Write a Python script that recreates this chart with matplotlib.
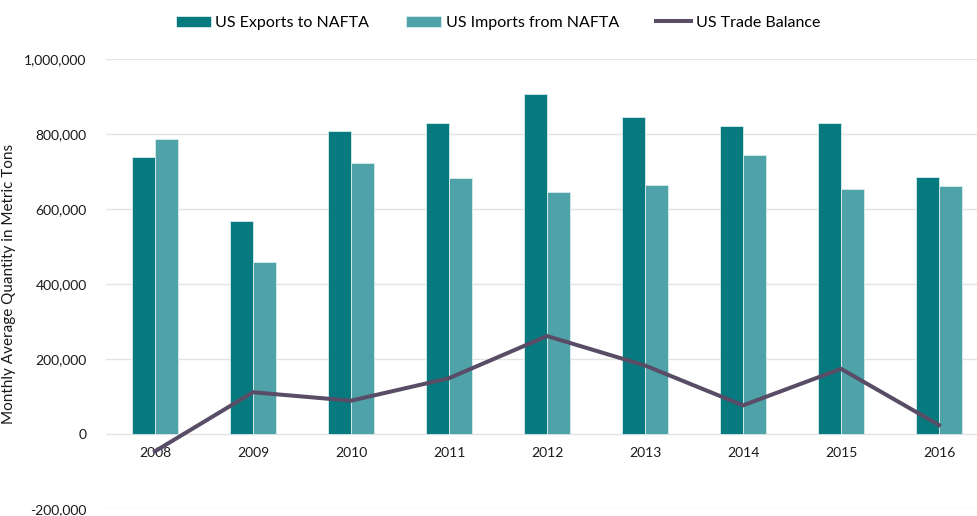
import numpy as np
import matplotlib
matplotlib.use("Agg")
import matplotlib.pyplot as plt
from matplotlib.ticker import FuncFormatter

years = ["2008", "2009", "2010", "2011", "2012", "2013", "2014", "2015", "2016"]
exports = [740600, 569500, 810000, 829700, 906600, 847000, 821000, 829000, 685000]
imports = [786000, 458000, 722000, 682000, 645000, 664000, 744000, 655000, 661000]
balance = [-46000, 111500, 89000, 149000, 261500, 183000, 76500, 174000, 24000]

plt.rcParams['font.family'] = ['Lato', 'DejaVu Sans']

fig = plt.figure(figsize=(9.77, 5.16), dpi=100)
ax = fig.add_axes([106 / 977, 1 - 509 / 516, 882 / 977, 449.7 / 516])

x = np.arange(len(years))
w = 0.238
b1 = ax.bar(x - w / 2, exports, w, color="#077A80", edgecolor="#d8ecec", linewidth=0.6,
            label="US Exports to NAFTA", zorder=2)
b2 = ax.bar(x + w / 2, imports, w, color="#4FA3A8", edgecolor="#d8ecec", linewidth=0.6,
            label="US Imports from NAFTA", zorder=2)
ln, = ax.plot(x, balance, color="#594C66", linewidth=2.9, label="US Trade Balance", zorder=3)

ax.set_xlim(-0.5, 8.5)
ax.set_ylim(-200000, 1000000)
ax.set_yticks(np.arange(-200000, 1000001, 200000))
ax.yaxis.set_major_formatter(FuncFormatter(lambda v, p: f"{int(v):,}"))
ax.set_xticks(x)
ax.set_xticklabels(years)
ax.grid(axis="y", color="#e3e3e3", linewidth=1, zorder=0)
for s in ["top", "right", "left"]:
    ax.spines[s].set_visible(False)
ax.spines["bottom"].set_position(("data", 0))
ax.spines["bottom"].set_color("none")
ax.tick_params(axis="both", length=0, labelsize=10, labelcolor="#1a1a1a")
ax.tick_params(axis="y", pad=14)
ax.tick_params(axis="x", pad=9)
ax.set_ylabel("Monthly Average Quantity in Metric Tons", fontsize=11, color="#1a1a1a")
ax.yaxis.set_label_coords(-0.102, 0.5)

fig.legend([b1, b2, ln], ["US Exports to NAFTA", "US Imports from NAFTA", "US Trade Balance"],
           loc="center", bbox_to_anchor=(498 / 977, 1 - 23 / 516), ncol=3, frameon=False,
           fontsize=11.5, handlelength=2.2, handleheight=0.7, columnspacing=2.3, handletextpad=0.3)

fig.savefig("out.png", dpi=100)
